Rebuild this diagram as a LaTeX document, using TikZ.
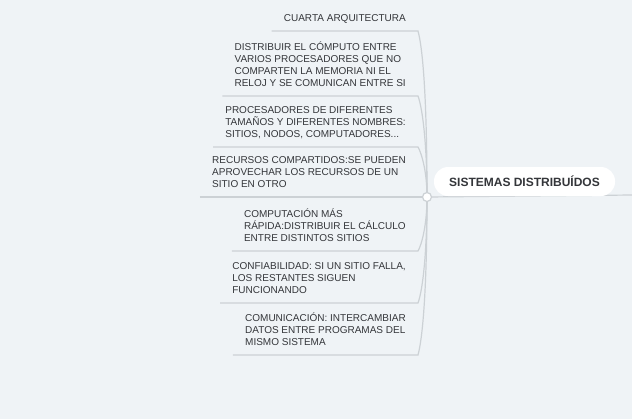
\documentclass[tikz,border=0pt]{standalone}
\usepackage{fontspec}
\setmainfont{Liberation Sans}
\definecolor{bgcol}{RGB}{239,243,246}
\definecolor{linecol}{RGB}{204,209,213}
\definecolor{txtcol}{RGB}{52,54,58}
\begin{document}
\begin{tikzpicture}[x=0.75pt,y=-0.75pt,
    leaf/.style={anchor=south east,align=left,inner xsep=9pt,inner ysep=5.1pt,
      text depth=2pt,text=txtcol,font=\fontsize{7.5}{9}\selectfont},
    link/.style={draw=linecol,line width=0.9pt},
    trunkbend/.style={out looseness=0.35,in looseness=1.3},
    root/.style={fill=white,rounded corners=10.5pt,minimum width=135.75pt,
      minimum height=21.75pt,text=txtcol,font=\fontsize{9}{11}\selectfont\bfseries}]
  \fill[bgcol] (0,0) rectangle (632,419);
  \useasboundingbox (0,0) rectangle (632,419);
  \coordinate (hub) at (427,197);
  \coordinate (exit) at (632,195);
  % branches
  \node[leaf] (b1) at (418,31) {CUARTA ARQUITECTURA};
  \node[leaf] (b2) at (418,96) {DISTRIBUIR EL CÓMPUTO ENTRE\\VARIOS PROCESADORES QUE NO\\COMPARTEN LA MEMORIA NI EL\\RELOJ Y SE COMUNICAN ENTRE SI};
  \node[leaf] (b3) at (418,147) {PROCESADORES DE DIFERENTES\\TAMAÑOS Y DIFERENTES NOMBRES:\\SITIOS, NODOS, COMPUTADORES...};
  \node[leaf] (b4) at (418,197) {RECURSOS COMPARTIDOS:SE PUEDEN\\APROVECHAR LOS RECURSOS DE UN\\SITIO EN OTRO};
  \node[leaf] (b5) at (418,251) {COMPUTACIÓN MÁS\\RÁPIDA:DISTRIBUIR EL CÁLCULO\\ENTRE DISTINTOS SITIOS};
  \node[leaf] (b6) at (418,303) {CONFIABILIDAD: SI UN SITIO FALLA,\\LOS RESTANTES SIGUEN\\FUNCIONANDO};
  \node[leaf] (b7) at (418,355) {COMUNICACIÓN: INTERCAMBIAR\\DATOS ENTRE PROGRAMAS DEL\\MISMO SISTEMA};
  \begin{scope}[link]
    \draw (b1.south west) -- (b1.south east) to[out=-75,in=90,trunkbend] (hub);
    \draw (b2.south west) -- (b2.south east) to[out=-70,in=90,trunkbend] (hub);
    \draw (b3.south west) -- (b3.south east) to[out=-60,in=90,trunkbend] (hub);
    \draw (b4.south west) -- (b4.south east) -- (hub);
    \draw (b5.south west) -- (b5.south east) to[out=60,in=-90,trunkbend] (hub);
    \draw (b6.south west) -- (b6.south east) to[out=70,in=-90,trunkbend] (hub);
    \draw (b7.south west) -- (b7.south east) to[out=75,in=-90,trunkbend] (hub);
    \draw (hub) -- (exit);
  \end{scope}
  \draw[link,fill=white] (hub) circle[radius=4.5];
  \node[root] (main) at (524.5,181.5) {SISTEMAS DISTRIBUÍDOS};
\end{tikzpicture}
\end{document}
